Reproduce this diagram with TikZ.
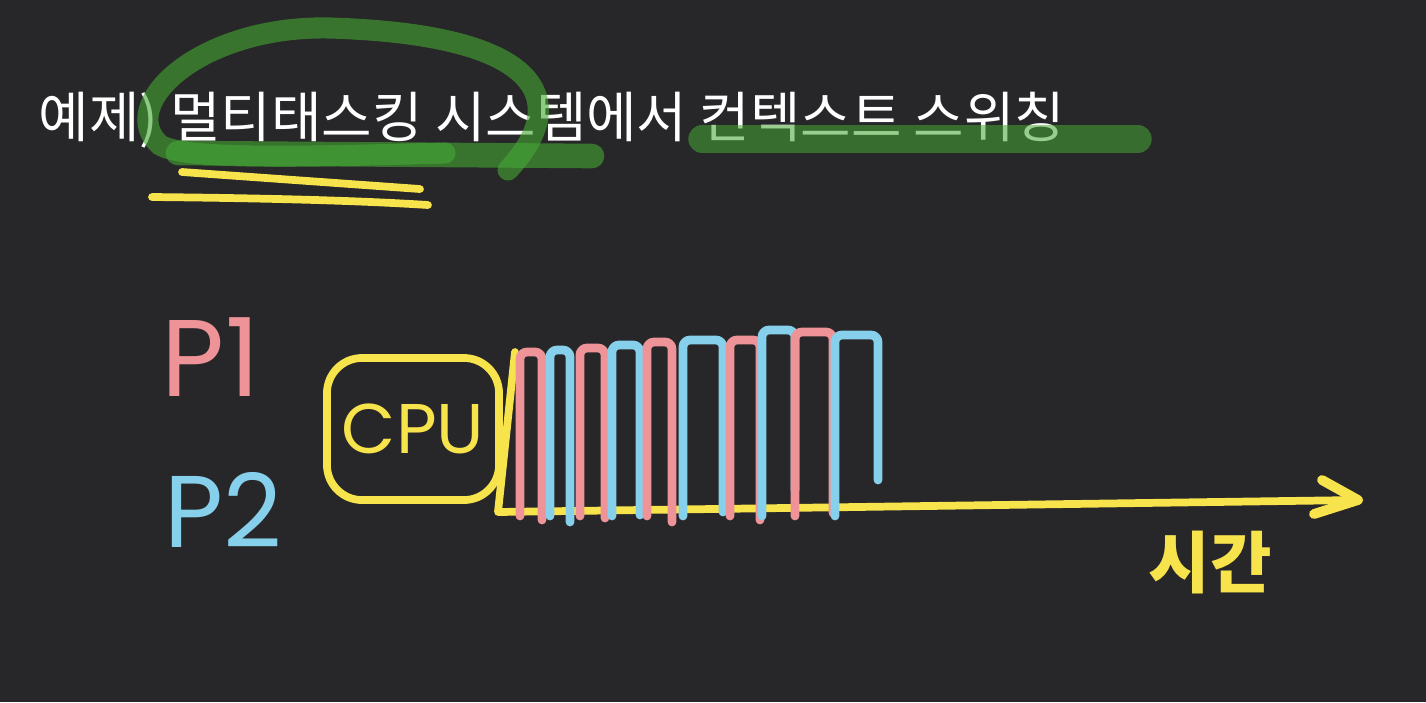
\documentclass[tikz,border=0pt]{standalone}
\usepackage{fontspec}
\newfontfamily\krfont{Noto Sans CJK KR}
\newfontfamily\handfont{Poppins}
\usetikzlibrary{calc}

\begin{document}
\begin{tikzpicture}[x=0.01cm, y=-0.01cm]
    % Define colours
    \definecolor{bgColour}{HTML}{272628}
    \definecolor{pinkColour}{HTML}{EE9499}
    \definecolor{blueColour}{HTML}{86D0EC}
    \definecolor{penColour}{HTML}{F7E34C}
    \definecolor{markColour}{HTML}{45A834}

    \tikzset{
        pen/.style={line width=2.2pt, line cap=round, line join=round},
        marker/.style={line width=7pt, line cap=round, draw=markColour, opacity=0.6},
    }

    % Draw background
    \fill[bgColour] (0,0) rectangle (1426,702);
    \useasboundingbox (0,0) rectangle (1426,702);

    % Title
    \node[anchor=west, inner sep=0, text=white, font=\krfont\fontsize{15.6}{18}\selectfont] (title) at (38,120)
        {예제) 멀티태스킹 시스템에서 컨텍스트 스위칭};

    % Highlighter strokes over the title
    \draw[marker, line width=6pt] (508,170) .. controls (565,110) and (560,35) .. (330,28)
        .. controls (200,25) and (115,105) .. (160,145) .. controls (185,160) and (300,157) .. (445,153);
    \draw[marker] (178,153) -- (592,156);
    \draw[marker, opacity=0.55, line width=7.8pt] (702,139) -- (1138,139);

    % Underlines
    \draw[pen, penColour] (182,172) -- (420,189);
    \draw[pen, penColour] (152,197) .. controls (250,198) and (350,200) .. (428,205);

    % Process labels
    \node[text=pinkColour, font=\handfont\fontsize{31}{36}\selectfont] (p1) at (211,357) {P1};
    \node[text=blueColour, font=\handfont\fontsize{29}{34}\selectfont] (p2) at (223,510) {P2};

    % CPU box
    \node[pen, draw=penColour, rounded corners=10pt, inner sep=2pt, minimum width=1.72cm, minimum height=1.42cm,
        text=penColour, font=\handfont\fontsize{20}{24}\selectfont] (cpu) at (413,429) {CPU};

    % Time axis
    \coordinate (axisTop) at (515,352);
    \coordinate (axisCorner) at (498,512);
    \coordinate (axisTip) at (1358,500);
    \draw[pen, penColour] (axisTop) -- (axisCorner) -- (axisTip);
    \draw[pen, penColour, line width=2.8pt] ($(axisTip)+(-36,-20)$) -- (axisTip) -- ($(axisTip)+(-44,14)$);
    \node[text=penColour, font=\krfont\bfseries\fontsize{19}{22}\selectfont] (time) at (1210,562) {시간};

    % Time slices of P1 and P2
    \foreach \xa/\xb/\ya/\yb/\col in {520/542/352/520/pinkColour, 550/570/350/522/blueColour,
        580/605/348/518/pinkColour, 612/640/345/515/blueColour, 647/672/342/522/pinkColour,
        683/723/340/512/blueColour, 730/760/340/520/pinkColour, 762/795/330/490/blueColour,
        795/833/332/513/pinkColour, 835/878/335/480/blueColour}
        \draw[pen, line width=2.5pt, rounded corners=2pt, draw=\col] (\xa,516) -- (\xa,\ya) -- (\xb,\ya) -- (\xb,\yb);

\end{tikzpicture}
\end{document}
